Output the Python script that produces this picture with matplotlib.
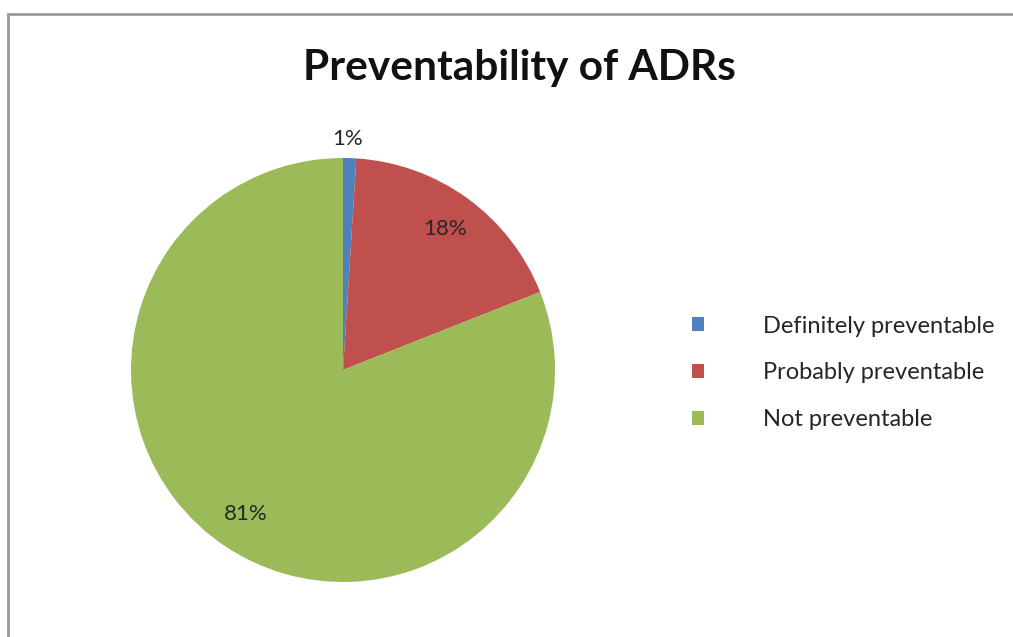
import matplotlib.pyplot as plt
from matplotlib.patches import Rectangle

# data
categories = ["Definitely preventable", "Probably preventable", "Not preventable"]
values = [1, 18, 81]
colors = ["#4F81BD", "#C0504D", "#9BBB59"]

plt.rcParams['font.family'] = ['Lato', 'DejaVu Sans']

W, H = 1013, 637
fig = plt.figure(figsize=(W / 100, H / 100), dpi=100)

# grey chart border (only left and top edges visible in the crop)
fig.patches.append(Rectangle((8 / W, -0.05), 1.1, 1 - 14 / H + 0.05,
                             transform=fig.transFigure, fill=False,
                             edgecolor='#9a9a9a', linewidth=2))

# pie axes, centre (343, 370) px, radius 212 px
cx, cy, r = 343, 370, 212
ax = fig.add_axes([(cx - r) / W, 1 - (cy + r) / H, 2 * r / W, 2 * r / H])
wedges, texts, autotexts = ax.pie(values, colors=colors, startangle=90,
                                  counterclock=False, radius=1,
                                  autopct='%1.0f%%', pctdistance=0.82,
                                  textprops=dict(fontsize=16, color='#262626'))
ax.set_xlim(-1, 1)
ax.set_ylim(-1, 1)
ax.set_aspect('equal')

# the 1% label sits just outside the pie
autotexts[0].set_position((0.02, 1.09))

fig.text(519 / W, 1 - 68 / H, "Preventability of ADRs", ha='center', va='center',
         fontsize=30.5, fontweight='bold', color='#111111')

fig.legend(wedges, categories, loc='center left',
           bbox_to_anchor=(671 / W, 1 - 373 / H), frameon=False,
           fontsize=17, handlelength=0.5, handleheight=0.5,
           handletextpad=2.5, labelspacing=1.1, labelcolor='#262626')

fig.savefig("out.png", dpi=100)
